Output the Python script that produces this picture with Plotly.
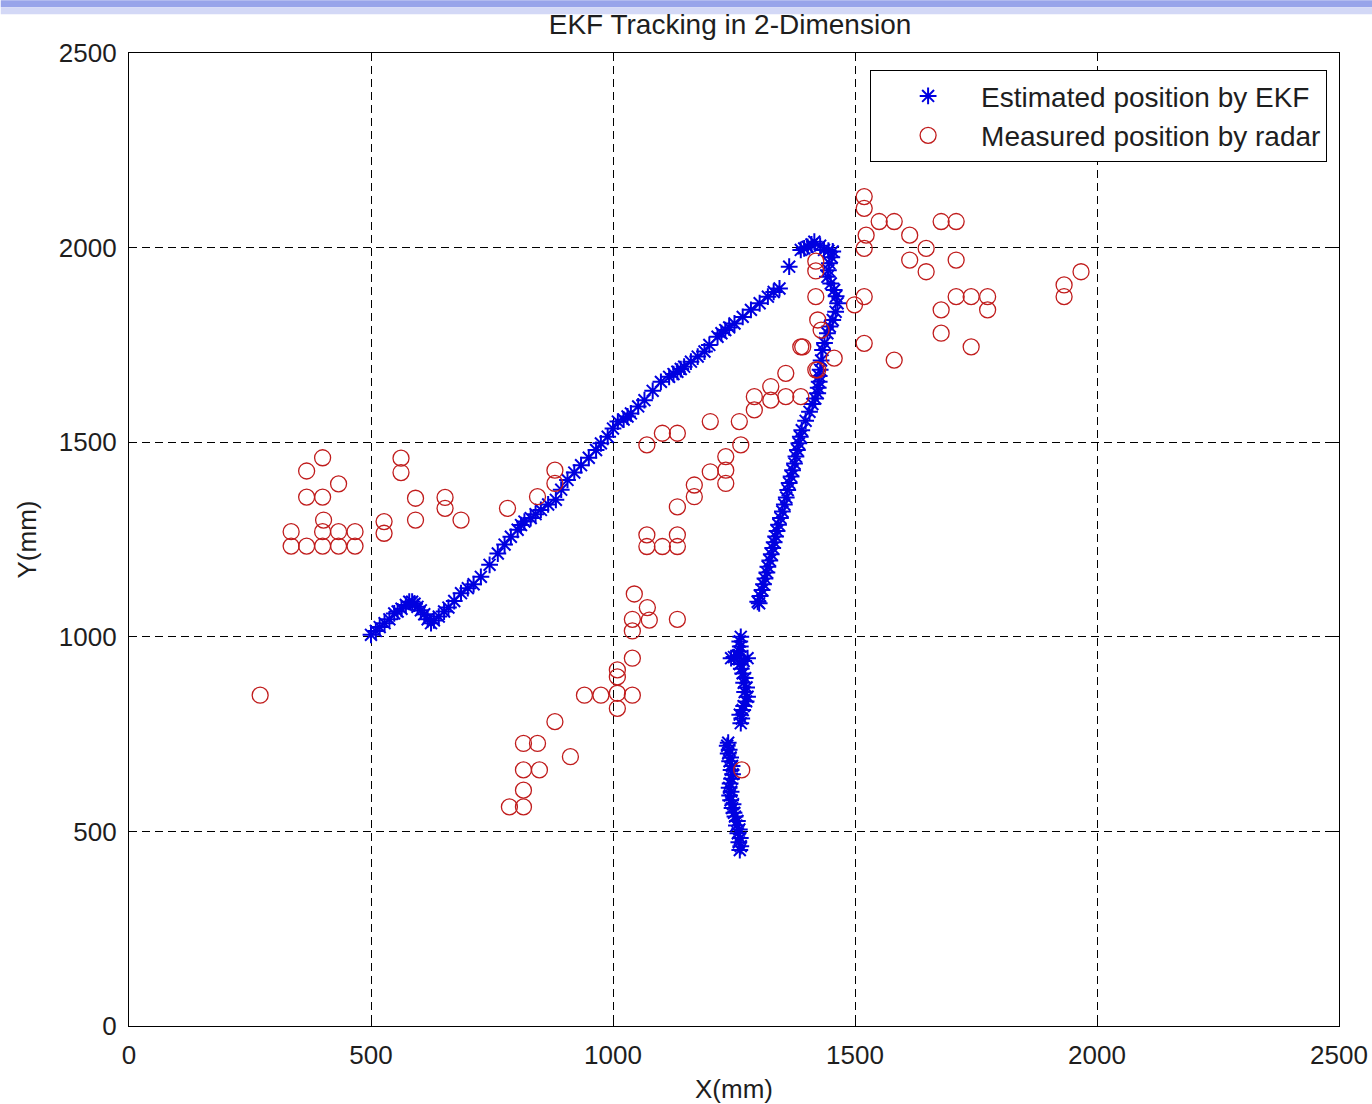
import plotly.graph_objects as go

# ---------------- data ----------------
title_text = "EKF Tracking in 2-Dimension"
x_label = "X(mm)"
y_label = "Y(mm)"
tick_vals = [0, 500, 1000, 1500, 2000, 2500]
tick_text = ["0", "500", "1000", "1500", "2000", "2500"]
ekf_name = "Estimated position by EKF"
radar_name = "Measured position by radar"

# Estimated position by EKF (blue asterisks)
ekf_x = [1262, 1264, 1260, 1263, 1258, 1261, 1255, 1257, 1252, 1250, 1246, 1248, 1243, 1241, 1244, 1240,
         1242, 1245, 1247, 1244, 1246, 1241, 1243, 1238, 1240, 1236, 1238,
         1264, 1266, 1262, 1268, 1270, 1275, 1278, 1272, 1276, 1270, 1273, 1268, 1265, 1262, 1270, 1278,
         1250, 1244, 1258, 1261, 1263, 1262, 1264,
         1302,
         1299, 1304, 1308, 1311, 1314, 1318, 1320, 1324, 1327, 1330, 1333, 1336, 1339, 1342, 1346, 1350,
         1354, 1358, 1361, 1364, 1368, 1371, 1375, 1378, 1381, 1384, 1387, 1390, 1398, 1406, 1412, 1418,
         1423, 1424, 1426, 1426, 1428,
         1430, 1433, 1437, 1443, 1448, 1454, 1460, 1464, 1461, 1457, 1450, 1443, 1445, 1447, 1452, 1454,
         1445, 1436, 1428, 1416, 1410, 1402, 1395, 1388,
         1364,
         1344, 1332, 1320, 1303, 1285, 1268, 1251, 1240, 1232, 1224, 1216, 1199, 1189, 1175, 1161, 1147,
         1140, 1133, 1125, 1116, 1099, 1082, 1065, 1052, 1037, 1030, 1022, 1010, 1000, 989, 975, 965,
         950, 934, 920, 906, 893, 882, 866, 851, 840, 830, 817, 810, 803, 789, 776, 762, 745, 727, 712,
         700, 686, 672, 660, 651, 640, 630, 624, 617, 610, 603, 596, 590, 585, 579, 572, 563, 555, 548,
         538, 528, 518, 510, 500]
ekf_y = [452, 462, 472, 483, 495, 505, 515, 527, 538, 548, 560, 570, 580, 592, 602, 612,
         623, 635, 647, 658, 668, 680, 690, 700, 710, 720, 728,
         778, 790, 800, 812, 822, 834, 846, 858, 870, 882, 894, 906, 918, 930, 938, 945,
         948, 945, 952, 962, 975, 988, 1000,
         1086,
         1090, 1105, 1120, 1135, 1150, 1165, 1180, 1196, 1212, 1228, 1243, 1258, 1272, 1288, 1305, 1322,
         1340, 1358, 1377, 1395, 1412, 1428, 1445, 1463, 1480, 1497, 1514, 1531, 1555, 1578, 1598, 1612,
         1626, 1640, 1655, 1670, 1686,
         1710, 1737, 1755, 1780, 1797, 1814, 1835, 1857, 1875, 1891, 1908, 1925, 1942, 1960, 1975, 1990,
         1992, 1994, 2005, 2015, 2008, 2002, 1998, 1994,
         1951,
         1895, 1886, 1874, 1857, 1840, 1822, 1805, 1795, 1788, 1780, 1771, 1750, 1733, 1720, 1707, 1694,
         1688, 1681, 1675, 1668, 1655, 1632, 1608, 1592, 1574, 1566, 1558, 1553, 1535, 1514, 1497, 1480,
         1460, 1441, 1422, 1403, 1378, 1352, 1340, 1326, 1315, 1305, 1296, 1287, 1275, 1257, 1237, 1214,
         1185, 1154, 1135,
         1125, 1112, 1092, 1075, 1065, 1052, 1042, 1035, 1045, 1058, 1068, 1077, 1085, 1090, 1090, 1082,
         1072, 1065, 1060, 1045, 1035, 1025, 1015, 1005]

# Measured position by radar (red circles)
radar_x = [271,
           400, 367, 433, 367, 400, 402, 335, 335, 367, 400, 400, 433, 433, 467, 467,
           527, 527, 562, 562, 592, 592, 653, 653, 686, 782,
           844, 880, 880,
           1070, 1102, 1133, 1201, 1233, 1233, 1233, 1201, 1168, 1168, 1133, 1070, 1070, 1102, 1133, 1133,
           1044, 1071, 1040, 1040, 1075, 1133,
           1040, 1009, 1009, 941, 975, 1009, 1040, 1009, 880, 815, 844, 912, 815, 848, 815, 786, 815,
           1261, 1292, 1292, 1326, 1326, 1357, 1357, 1388, 1423, 1457, 1388, 1264,
           1266,
           1419, 1419, 1419, 1423, 1430, 1392, 1419, 1499,
           1519, 1519, 1550, 1581, 1613, 1523, 1519, 1647, 1613, 1647, 1678, 1709, 1709, 1967, 1932, 1932,
           1709, 1740, 1774, 1774, 1678, 1678, 1740, 1581, 1519, 1519]
radar_y = [850,
           1460, 1426, 1393, 1359, 1359, 1300, 1270, 1233, 1233, 1270, 1233, 1270, 1233, 1270, 1233,
           1296, 1266, 1459, 1422, 1356, 1300, 1358, 1330, 1300, 1330,
           1360, 1428, 1394,
           1493, 1523, 1523, 1553, 1463, 1428, 1394, 1424, 1390, 1360, 1334, 1262, 1232, 1232, 1262, 1232,
           1110, 1075, 1045, 1015, 1043, 1045,
           945, 915, 897, 850, 850, 855, 850, 816, 782, 726, 726, 692, 658, 658, 606, 563, 563,
           1553, 1583, 1617, 1608, 1643, 1677, 1617, 1617, 1686, 1716, 1745, 1493,
           658,
           1965, 1940, 1874, 1814, 1788, 1745, 1686, 1853,
           2131, 2101, 2067, 2067, 2032, 2032, 1998, 1998, 1968, 1938, 2067, 2067, 1968, 1938, 1904, 1874,
           1874, 1874, 1874, 1840, 1840, 1780, 1745, 1711, 1874, 1754]

# ---------------- figure ----------------
FONT = "Liberation Sans, Arial, Helvetica, sans-serif"
TXT = "#1e1e1e"

fig = go.Figure()
fig.add_trace(go.Scatter(
    x=ekf_x, y=ekf_y, mode="markers", name=ekf_name,
    marker=dict(symbol="asterisk-open", size=14, color="#0000e0",
                line=dict(color="#0000e0", width=2)),
))
fig.add_trace(go.Scatter(
    x=radar_x, y=radar_y, mode="markers", name=radar_name,
    marker=dict(symbol="circle-open", size=16, color="#c01c1c",
                line=dict(color="#c01c1c", width=1.3)),
))

axis_common = dict(
    range=[0, 2500], tickmode="array", tickvals=tick_vals, ticktext=tick_text,
    showgrid=True, gridcolor="black", gridwidth=1, griddash="8px,5px",
    zeroline=False, showline=True, linecolor="black", linewidth=1.2, mirror="ticks",
    ticks="inside", ticklen=8, tickcolor="black",
    tickfont=dict(family=FONT, size=26, color=TXT),
)

# the photographed page comes out scaled by about 1372/1380, so lay out at 1380 wide
W, H = 1380, 1110
PL, PR, PT, PB = 129, 34, 53, 78
PW, PH = W - PL - PR, H - PT - PB

fig.update_layout(
    width=W, height=H,
    margin=dict(l=PL, r=PR, t=PT, b=PB),
    paper_bgcolor="white", plot_bgcolor="white",
    font=dict(family=FONT, color=TXT),
    title=dict(text=title_text, x=730 / W, xref="container",
               xanchor="center", y=1 - 24 / H, yanchor="middle",
               font=dict(family=FONT, size=28, color=TXT)),
    xaxis=dict(**axis_common, title=dict(text=x_label, standoff=10,
                                         font=dict(family=FONT, size=26, color=TXT)),
               ticklabelstandoff=6),
    yaxis=dict(**axis_common, title=dict(text=y_label, standoff=14,
                                         font=dict(family=FONT, size=26, color=TXT)),
               ticklabelstandoff=6),
    legend=dict(x=0.990, y=0.9825, xanchor="right", yanchor="top",
                bgcolor="white", bordercolor="black", borderwidth=1.2,
                font=dict(family=FONT, size=28, color=TXT),
                itemwidth=96, indentation=4, tracegroupgap=0),
    showlegend=True,
)

# window-chrome style band at the very top of the picture
fig.add_shape(type="rect", xref="paper", yref="paper",
              x0=-PL / PW, x1=(W - PL) / PW,
              y0=(PH + PT - 7) / PH, y1=(PH + PT) / PH,
              fillcolor="#98a4ea", line=dict(width=0), layer="above")
fig.add_shape(type="rect", xref="paper", yref="paper",
              x0=-PL / PW, x1=(W - PL) / PW,
              y0=(PH + PT - 14) / PH, y1=(PH + PT - 7) / PH,
              fillcolor="#d3d8f6", line=dict(width=0), layer="above")

# remove the default 8px body margin so the figure starts at the window corner
fig.write_html("out.html", config={"displayModeBar": False},
               post_script="document.body.style.margin='0';document.body.style.overflow='hidden';")
